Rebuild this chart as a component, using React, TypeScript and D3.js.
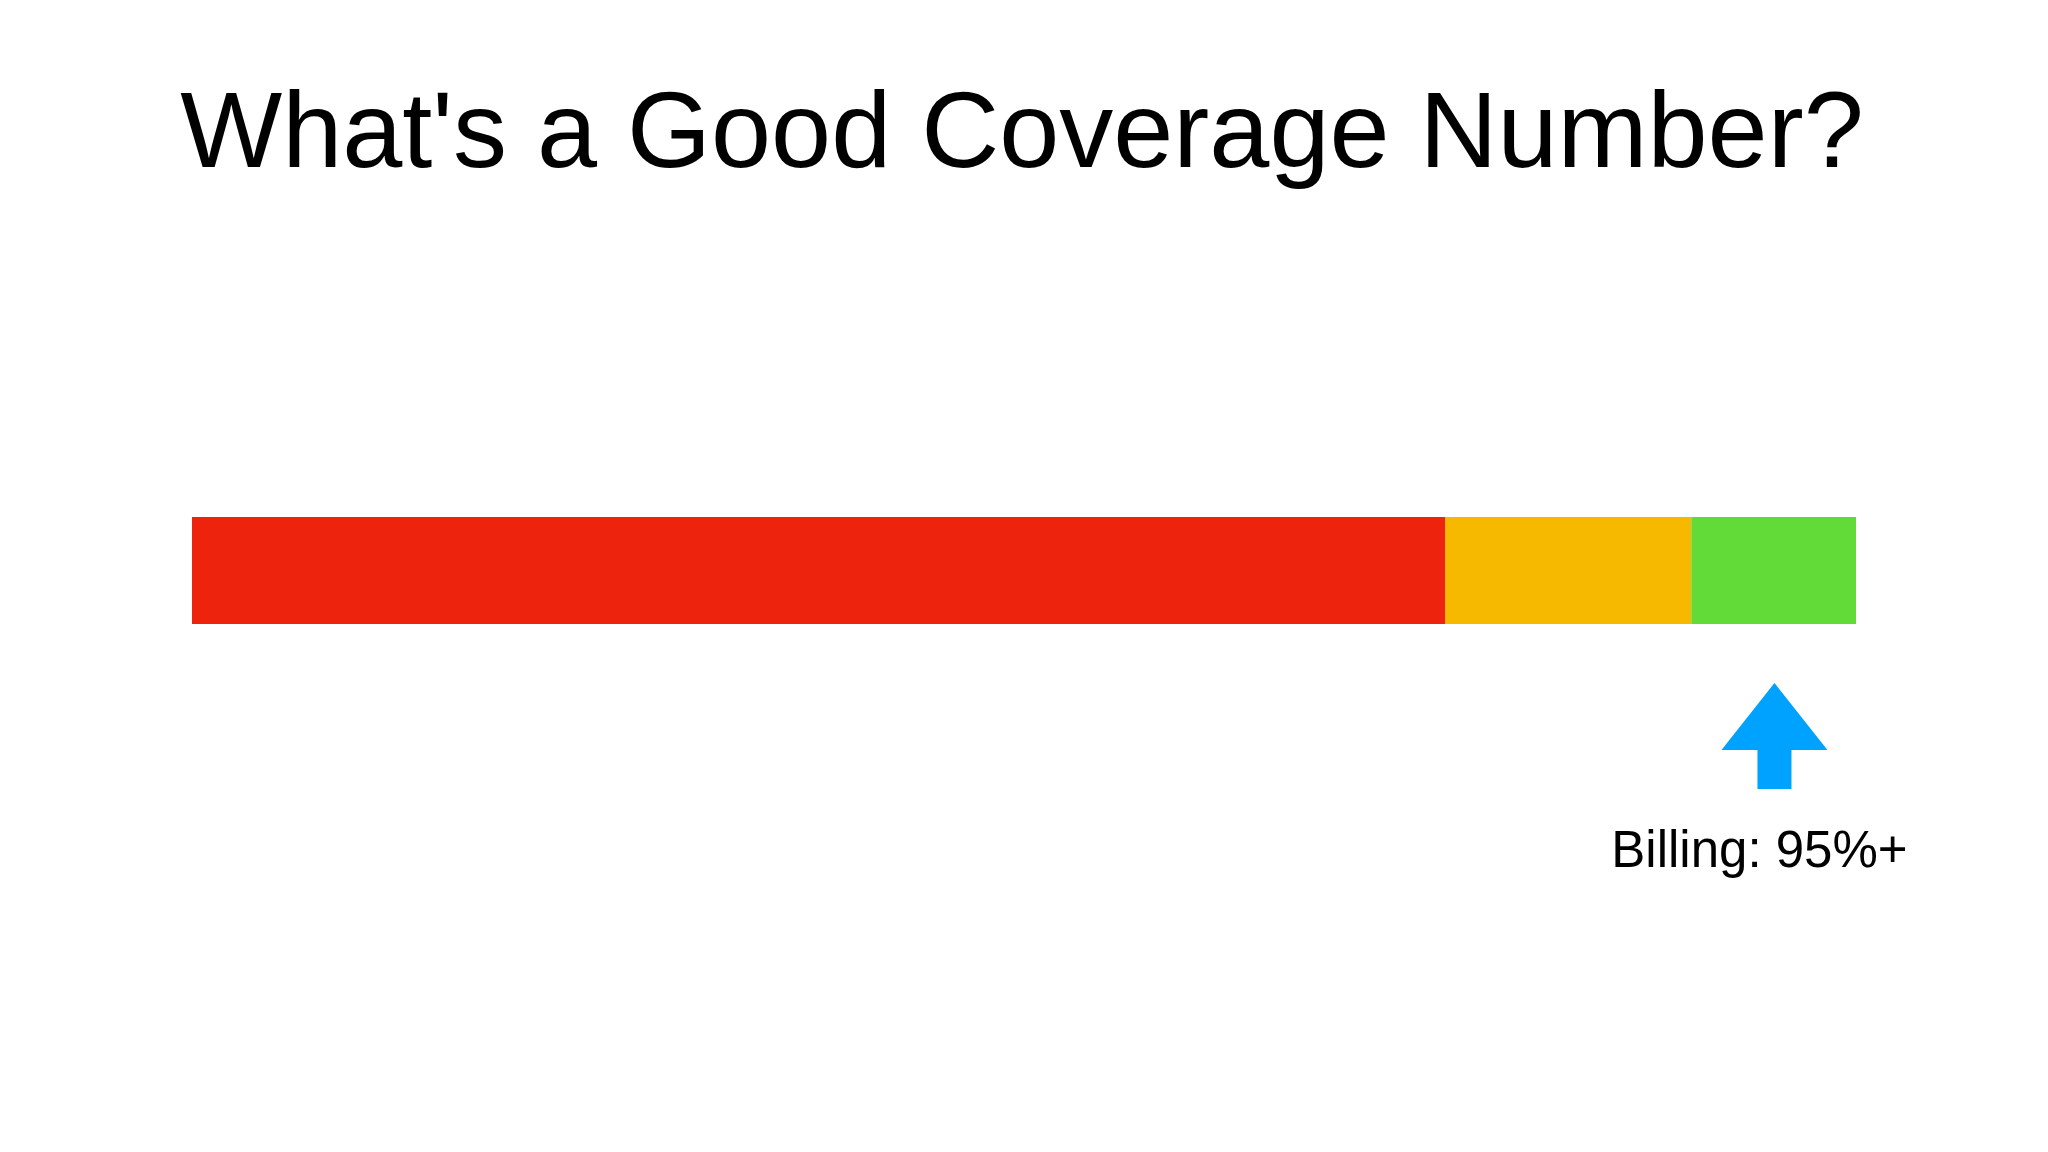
import React from "react";
import * as d3 from "d3";

const title = "What's a Good Coverage Number?";
const segmentNames = ["low", "medium", "good"];
const segmentStarts = [0, 75.3, 90.1];
const segmentEnds = [75.3, 90.1, 100];
const segmentColors = ["#ee230d", "#f6b900", "#62da37"];
const markerValue = 95.1;
const markerLabel = "Billing: 95%+";

const W = 2048;
const H = 1152;

export default function App() {
  const x = d3.scaleLinear().domain([0, 100]).range([192, 1856]);
  const barTop = 517;
  const barH = 107;
  const cx = x(markerValue);
  const arrow = d3.path();
  arrow.moveTo(cx, 683);
  arrow.lineTo(cx + 53, 750);
  arrow.lineTo(cx + 17, 750);
  arrow.lineTo(cx + 17, 789);
  arrow.lineTo(cx - 17, 789);
  arrow.lineTo(cx - 17, 750);
  arrow.lineTo(cx - 53, 750);
  arrow.closePath();
  return (
    <svg
      width={W}
      height={H}
      style={{ position: "absolute", left: 0, top: 0, background: "#fff" }}
      fontFamily="'Liberation Sans', Arial, sans-serif"
    >
      <rect x={0} y={0} width={W} height={H} fill="#fff" />
      <text x={1022} y={167} textAnchor="middle" fontSize={108} fill="#000">
        {title}
      </text>
      {segmentNames.map((n, i) => (
        <rect
          key={n}
          x={x(segmentStarts[i])}
          y={barTop}
          width={x(segmentEnds[i]) - x(segmentStarts[i])}
          height={barH}
          fill={segmentColors[i]}
        />
      ))}
      <path d={arrow.toString()} fill="#00a2ff" />
      <text x={cx - 15} y={867} textAnchor="middle" fontSize={51} fill="#000">
        {markerLabel}
      </text>
    </svg>
  );
}
